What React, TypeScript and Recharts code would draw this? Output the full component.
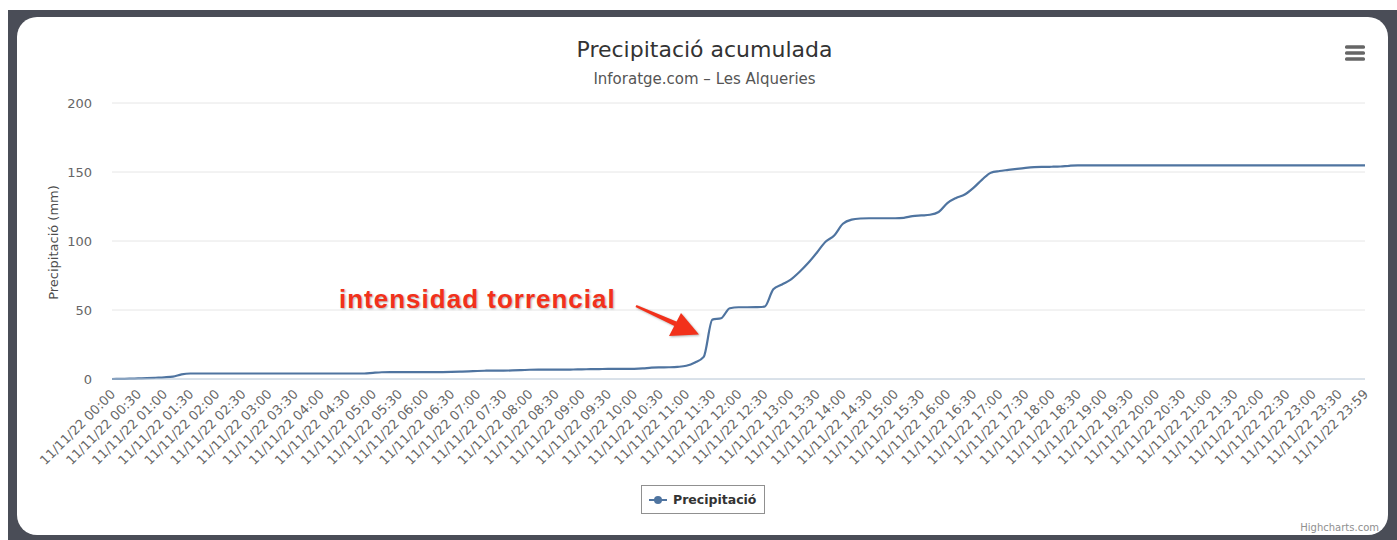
import React from "react";
import { LineChart, Line, XAxis, YAxis, CartesianGrid, Legend } from "recharts";

// readings every 10 minutes on 11/11/22, plus the last one at 23:59
const times: string[] = [];
for (let m = 0; m < 1440; m += 10) {
  times.push(`${String(Math.floor(m / 60)).padStart(2, "0")}:${String(m % 60).padStart(2, "0")}`);
}
times.push("23:59");

// labels shown on the x axis (every 30 minutes)
const tickTimes = [
  "00:00", "00:30", "01:00", "01:30", "02:00", "02:30", "03:00", "03:30",
  "04:00", "04:30", "05:00", "05:30", "06:00", "06:30", "07:00", "07:30",
  "08:00", "08:30", "09:00", "09:30", "10:00", "10:30", "11:00", "11:30",
  "12:00", "12:30", "13:00", "13:30", "14:00", "14:30", "15:00", "15:30",
  "16:00", "16:30", "17:00", "17:30", "18:00", "18:30", "19:00", "19:30",
  "20:00", "20:30", "21:00", "21:30", "22:00", "22:30", "23:00", "23:30",
  "23:59",
];

// accumulated rain (mm)
const rain = [
  0, 0.1, 0.2, 0.4, 0.6, 0.9, 1.2, 1.7, 3.4, 4.0, // 00:00 - 01:30
  4.0, 4.0, 4.0, 4.0, 4.0, 4.0, 4.0, 4.0, 4.0, 4.0, // 01:40 - 03:10
  4.0, 4.0, 4.0, 4.0, 4.0, 4.0, 4.0, 4.0, 4.0, 4.0, // 03:20 - 04:50
  4.5, 4.9, 5.0, 5.0, 5.0, 5.0, 5.0, 5.0, 5.0, // 05:00 - 06:20
  5.1, 5.3, 5.5, 5.8, 6.0, 6.1, 6.1, 6.2, 6.4, // 06:30 - 07:50
  6.7, 6.8, 6.8, 6.8, 6.8, 6.9, 7.0, 7.1, 7.2, // 08:00 - 09:20
  7.3, 7.3, 7.3, 7.4, 7.7, 8.2, 8.4, 8.5, 8.8, // 09:30 - 10:50
  9.6, 12.0, 16.0, 43.0, 44.0, 51.3, 52.0, 52.0, 52.1, 52.4, // 11:00 - 12:30
  65.0, 68.5, 72.0, 77.5, 84.0, 91.5, 99.5, 104.0, 112.5, 115.5, // 12:40 - 14:10
  116.3, 116.5, 116.5, 116.5, 116.5, 116.8, 118.0, 118.5, 119.0, 121.0, // 14:20 - 15:50
  127.5, 131.2, 133.7, 138.5, 144.5, 149.5, 150.7, 151.5, 152.3, 153.0, // 16:00 - 17:30
  153.5, 153.7, 153.8, 154.0, 154.5, 154.8, // 17:40 - 18:30
  154.8, 154.8, 154.8, 154.8, 154.8, 154.8, 154.8, 154.8, 154.8, 154.8, 154.8,
  154.8, 154.8, 154.8, 154.8, 154.8, 154.8, 154.8, 154.8, 154.8, 154.8, 154.8,
  154.8, 154.8, 154.8, 154.8, 154.8, 154.8, 154.8, 154.8, 154.8, 154.8, 154.8, // 18:40 - 23:59
];

const yTicks = [0, 50, 100, 150, 200];

const data = times.map((t, i) => ({ time: t, precip: rain[i] }));

const FONT = '"DejaVu Sans", Verdana, sans-serif';
const LINE = "#4f74a0";
const RED = "#f2311b";
const labelSet = new Set(tickTimes);

// rotated date labels, only on the half hours
const XTick = (props: any) => {
  const { x, y, payload } = props;
  if (!labelSet.has(payload.value)) return null;
  return (
    <g transform={`translate(${x + 4},${y + 14})`}>
      <text textAnchor="end" transform="rotate(-45)" fontSize={13} fill="#666" fontFamily={FONT}>
        {`11/11/22 ${payload.value}`}
      </text>
    </g>
  );
};

const renderLegend = () => (
  <div
    style={{
      display: "flex",
      alignItems: "center",
      boxSizing: "border-box",
      width: 124,
      height: 29,
      border: "1px solid #909090",
      padding: "0 7px",
      fontFamily: FONT,
      fontSize: 12.5,
      fontWeight: "bold",
      color: "#333",
      background: "#fff",
    }}
  >
    <svg width={18} height={10}>
      <line x1={0} y1={5} x2={18} y2={5} stroke={LINE} strokeWidth={2} />
      <circle cx={9} cy={5} r={4} fill={LINE} />
    </svg>
    <span style={{ marginLeft: 6 }}>Precipitació</span>
  </div>
);

export default function App() {
  return (
    <div style={{ position: "absolute", left: 0, top: 0, width: 1397, height: 540, background: "#fff", overflow: "hidden" }}>
      {/* dark frame around the card */}
      <div style={{ position: "absolute", left: 8, top: 10, width: 1389, height: 530, background: "#4a4d57" }} />
      <div
        style={{
          position: "absolute",
          left: 17,
          top: 17,
          width: 1371,
          height: 518,
          background: "#fff",
          borderRadius: 20,
          overflow: "hidden",
        }}
      >
        <LineChart width={1371} height={518} data={data} margin={{ top: 86, right: 23, left: 0, bottom: 0 }}>
          <CartesianGrid vertical={false} stroke="#e6e6e6" />
          <XAxis
            dataKey="time"
            scale="point"
            padding={{ left: 0, right: 0 }}
            interval={0}
            height={156}
            tickLine={false}
            tickSize={0}
            axisLine={{ stroke: "#c0d0e0" }}
            tick={<XTick />}
          />
          <YAxis
            width={95}
            domain={[0, 200]}
            ticks={yTicks}
            axisLine={false}
            tickLine={false}
            tickSize={0}
            tickMargin={20}
            tick={{ fontSize: 13, fill: "#666", fontFamily: FONT }}
          />
          <Legend
            layout="horizontal"
            verticalAlign="middle"
            align="center"
            content={renderLegend}
            wrapperStyle={{ left: 624, top: 468, width: 124, height: 29 }}
          />
          <Line
            type="monotone"
            dataKey="precip"
            name="Precipitació"
            stroke={LINE}
            strokeWidth={2.2}
            dot={false}
            isAnimationActive={false}
          />
        </LineChart>
      </div>

      {/* titles, menu icon, credit and the pasted annotation */}
      <svg width={1397} height={540} style={{ position: "absolute", left: 0, top: 0, pointerEvents: "none" }}>
        <text x={704.5} y={57} textAnchor="middle" fontSize={22} fill="#333" fontFamily={FONT}>
          Precipitació acumulada
        </text>
        <text x={704.5} y={84} textAnchor="middle" fontSize={15} fill="#555" fontFamily={FONT}>
          Inforatge.com – Les Alqueries
        </text>
        <text x={58} y={242.5} textAnchor="middle" transform="rotate(-90 58 242.5)" fontSize={13} fill="#4d4d4d" fontFamily={FONT}>
          Precipitació (mm)
        </text>
        <rect x={1345} y={45.3} width={20} height={3.5} rx={1.5} fill="#666" />
        <rect x={1345} y={51.3} width={20} height={3.5} rx={1.5} fill="#666" />
        <rect x={1345} y={57.3} width={20} height={3.5} rx={1.5} fill="#666" />
        <text x={1379} y={531} textAnchor="end" fontSize={10} fill="#909090" fontFamily={FONT}>
          Highcharts.com
        </text>

        <text
          x={339}
          y={308}
          fontSize={26}
          fontWeight="bold"
          letterSpacing={1}
          fill={RED}
          fontFamily='"Liberation Sans", Arial, sans-serif'
          style={{ textShadow: "1px 1px 2px rgba(0,0,0,0.3)" }}
        >
          intensidad torrencial
        </text>
        <g fill={RED} style={{ filter: "drop-shadow(1px 1px 1px rgba(0,0,0,0.3))" }}>
          <polygon points="636.5,304.9 677,321.7 675,326.3 635.5,307.1" />
          <polygon points="681,313 699,334.5 669,336" />
        </g>
      </svg>
    </div>
  );
}
